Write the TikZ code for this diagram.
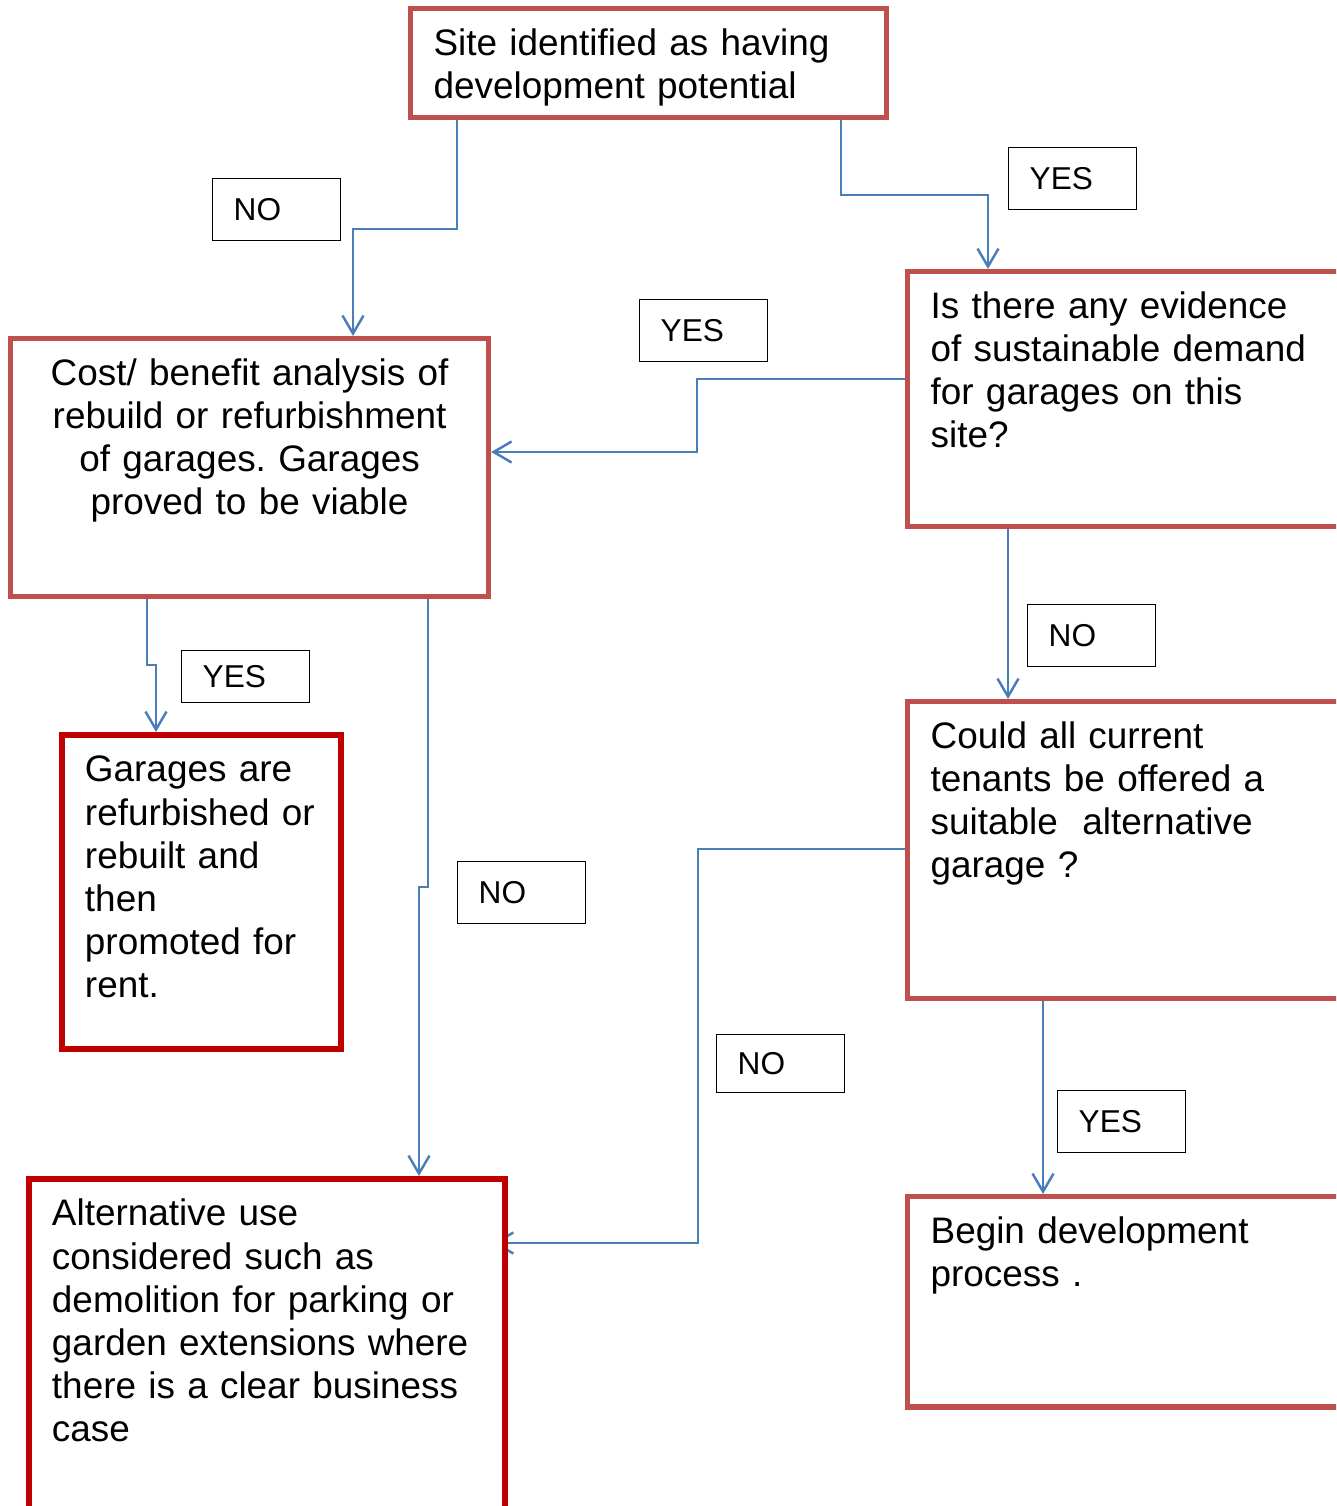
\documentclass[tikz,border=0pt]{standalone}
\usepackage{fontspec}
\setmainfont{Liberation Sans}
\usetikzlibrary{arrows.meta,backgrounds}
\definecolor{boxred}{HTML}{C0504D}
\definecolor{darkred}{HTML}{C00000}
\definecolor{linkblue}{HTML}{4A7EBB}
\frenchspacing

\begin{document}
\begin{tikzpicture}[x=0.02cm,y=-0.02cm,>={Straight Barb[length=0.36cm,width=0.42cm]},
	main node/.style={draw=boxred,line width=3pt,fill=white,anchor=north west,align=left,
		inner xsep=0.46cm,inner ysep=0.2cm,text height=0.74cm,font=\fontsize{21}{24.5}\selectfont},
	end node/.style={main node,draw=darkred,line width=3.4pt},
	answer node/.style={draw,line width=0.8pt,anchor=north west,align=left,text width=1.72cm,
		inner xsep=0.42cm,minimum height=1.24cm,font=\fontsize{18}{21}\selectfont},
	link/.style={->,draw=linkblue,line width=1.4pt}]
	
	\useasboundingbox (0,0) rectangle (1336,1506);
	\clip (0,0) rectangle (1336,1506);
	
	\node[main node,text width=8.6cm,text depth=1.04cm] (1) at (408,6)
	{Site identified as having\\development potential};
	\node[main node,align=center,text width=8.64cm,text depth=4.02cm] (2) at (8,336)
	{Cost/ benefit analysis of\\rebuild or refurbishment\\of garages. Garages\\proved to be viable};
	\node[main node,text width=8.32cm,text depth=3.96cm] (3) at (905,269)
	{Is there any evidence\\of sustainable demand\\for garages on this\\site?};
	\node[main node,text width=8.32cm,text depth=4.8cm] (4) at (905,699)
	{Could all current\\tenants be offered a\\suitable\ \ alternative\\garage ?};
	\node[main node,text width=8.32cm,text depth=3.07cm] (5) at (905,1194)
	{Begin development\\process .};
	\node[end node,text width=4.66cm,text depth=5.14cm] (6) at (59,732)
	{Garages are\\refurbished or\\rebuilt and\\then\\promoted for\\rent.};
	\node[end node,text width=8.6cm,text depth=6.08cm] (7) at (26,1176)
	{Alternative use\\considered such as\\demolition for parking or\\garden extensions where\\there is a clear business\\case};
	
	\node[answer node] (8) at (212,178) {NO};
	\node[answer node] (9) at (1008,147) {YES};
	\node[answer node] (10) at (639,299) {YES};
	\node[answer node,minimum height=1.04cm] (11) at (181,650) {YES};
	\node[answer node] (12) at (1027,604) {NO};
	\node[answer node] (13) at (457,861) {NO};
	\node[answer node,minimum height=1.16cm] (14) at (716,1034) {NO};
	\node[answer node] (15) at (1057,1090) {YES};
	
	\begin{scope}[on background layer]
	\draw[link] (1.south -| 457,0) |- (353,229) -- (353,0 |- 2.north);
	\draw[link] (1.south -| 841,0) |- (988,195) -- (988,0 |- 3.north);
	\draw[link] (3.west |- 0,379) -| (697,452) -- (2.east |- 0,452);
	\draw[link] (3.south -| 1008,0) -- (1008,0 |- 4.north);
	\draw[link] (2.south -| 147,0) |- (156,665) -- (156,0 |- 6.north);
	\draw[link] (2.south -| 428,0) |- (419,887) -- (419,0 |- 7.north);
	\draw[link,shorten >=-0.3cm] (4.west |- 0,849) -| (698,1243) -- (7.east |- 0,1243);
	\draw[link] (4.south -| 1043,0) -- (1043,0 |- 5.north);
	\end{scope}
\end{tikzpicture}
\end{document}
